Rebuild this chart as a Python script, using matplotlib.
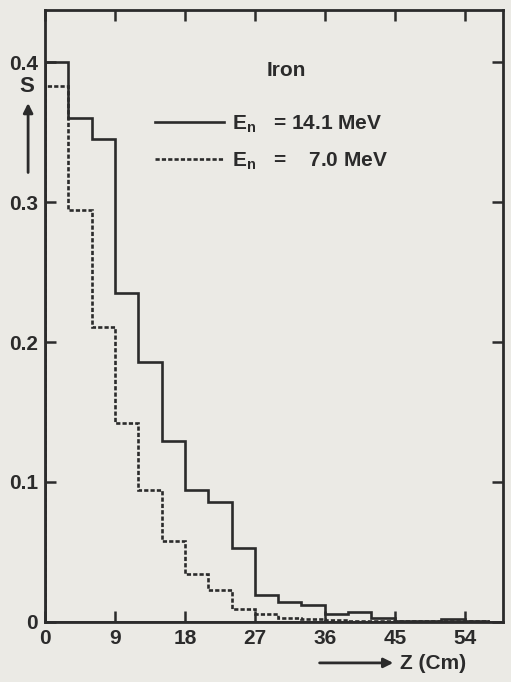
import numpy as np
import matplotlib
matplotlib.use('Agg')
import matplotlib.pyplot as plt
from matplotlib.lines import Line2D

# bin edges along the depth (cm), 3 cm wide
edges = np.arange(0, 60, 3)

# flux S for E_n = 14.1 MeV (solid) and 7.0 MeV (dashed)
s_141 = [0.400, 0.360, 0.345, 0.235, 0.186, 0.129, 0.094, 0.086, 0.053,
         0.019, 0.014, 0.012, 0.006, 0.007, 0.003, 0.0005, 0.001, 0.002, 0.001]
s_70 = [0.383, 0.294, 0.211, 0.142, 0.094, 0.058, 0.034, 0.023, 0.009,
        0.006, 0.003, 0.002, 0.0015, 0.001, 0.001, 0.0005, 0.0005, 0.001, 0.0005]

xticks = [0, 9, 18, 27, 36, 45, 54]
yticks = [0, 0.1, 0.2, 0.3, 0.4]
ytick_labels = ['0', '0.1', '0.2', '0.3', '0.4']

paper = '#ebeae5'
ink = '#2b2b2b'
dash = (0, (1.6, 0.8))
plt.rcParams['font.family'] = ['Liberation Sans', 'DejaVu Sans']
plt.rcParams['font.weight'] = 'bold'
plt.rcParams['mathtext.fontset'] = 'custom'
plt.rcParams['mathtext.rm'] = 'Liberation Sans:bold'

fig = plt.figure(figsize=(5.11, 6.82), dpi=100, facecolor=paper)
ax = fig.add_axes([0.088, 0.088, 0.896, 0.897], facecolor=paper)

ax.stairs(s_141, edges, baseline=0, color=ink, lw=1.9)
ax.stairs(s_70, edges, baseline=0, color=ink, lw=1.9, linestyle=dash)
ax.axhline(0, color=ink, lw=2)

ax.set_xlim(0, 58.9)
ax.set_ylim(0, 0.437)
ax.set_xticks(xticks)
ax.set_yticks(yticks)
ax.set_yticklabels(ytick_labels)
ax.tick_params(direction='in', length=8, width=1.8, color=ink, labelsize=15,
               labelcolor=ink, top=True, right=True, pad=5)
for sp in ax.spines.values():
    sp.set_linewidth(2)
    sp.set_color(ink)

# axis labels with arrows
ax.annotate('', xy=(0.055, 0.853), xytext=(0.055, 0.743), xycoords='figure fraction',
            arrowprops=dict(arrowstyle='-|>', color=ink, lw=2, mutation_scale=14))
fig.text(0.053, 0.873, 'S', ha='center', va='center', fontsize=16, color=ink)
ax.annotate('', xy=(0.775, 0.028), xytext=(0.62, 0.028), xycoords='figure fraction',
            arrowprops=dict(arrowstyle='-|>', color=ink, lw=2, mutation_scale=14))
fig.text(0.782, 0.027, 'Z (Cm)', ha='left', va='center', fontsize=15, color=ink)

ax.text(0.528, 0.902, 'Iron', transform=ax.transAxes, ha='center', va='center',
        fontsize=15, color=ink)
handles = [Line2D([], [], color=ink, lw=1.9),
           Line2D([], [], color=ink, lw=1.9, linestyle=dash)]
labels = [r'E$_\mathregular{n}$   = 14.1 MeV', r'E$_\mathregular{n}$   =    7.0 MeV']
leg = ax.legend(handles, labels, frameon=False, loc='upper left',
                bbox_to_anchor=(0.24, 0.832), borderpad=0, borderaxespad=0,
                handlelength=3.3, handletextpad=0.4, labelspacing=0.75, fontsize=15)
for t in leg.get_texts():
    t.set_color(ink)

fig.savefig('out.png', dpi=100, facecolor=paper)
